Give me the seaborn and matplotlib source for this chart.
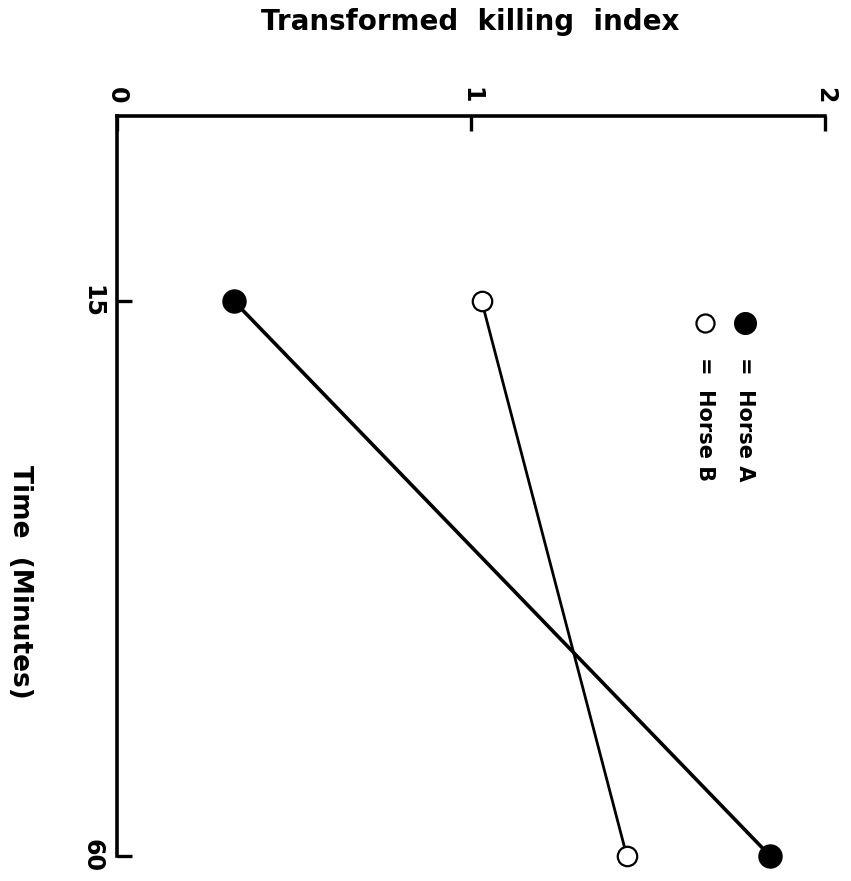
import pandas as pd
import matplotlib
matplotlib.use("Agg")
import matplotlib.pyplot as plt
import seaborn as sns

sns.set_style("white")
plt.rcParams['font.family'] = ['DejaVu Sans']
plt.rcParams['font.weight'] = 'bold'
plt.rcParams['text.color'] = 'black'
plt.rcParams['xtick.color'] = 'black'
plt.rcParams['ytick.color'] = 'black'

# data (chart is drawn rotated: time runs down, index runs right)
time_min = [15, 60]
horse_a = [0.33, 1.845]
horse_b = [1.03, 1.44]
horses = ["Horse A", "Horse B"]
index_ticks = [0, 1, 2]
time_ticks = [15, 60]

df = pd.DataFrame({
    "Time": time_min * 2,
    "Index": horse_a + horse_b,
    "Horse": [horses[0]] * 2 + [horses[1]] * 2,
})

fig = plt.figure(figsize=(8.51, 8.81), dpi=100)
ax = fig.add_axes([0.1375, 0.0284, 0.832, 0.8399])

fills = {"Horse A": "black", "Horse B": "white"}
sizes = {"Horse A": 16, "Horse B": 14}
widths = {"Horse A": 2.6, "Horse B": 2.0}
for h in horses:
    sub = df[df["Horse"] == h]
    sns.lineplot(data=sub, x="Index", y="Time", orient="y", sort=False, ax=ax,
                 color="black", linewidth=widths[h], marker="o",
                 markersize=sizes[h], markerfacecolor=fills[h],
                 markeredgecolor="black", markeredgewidth=1.6,
                 legend=False, zorder=3, clip_on=False)

ax.set_xlim(0, 2)
ax.set_ylim(60, 0)
ax.xaxis.tick_top()
ax.set_xticks(index_ticks)
ax.set_xticklabels([str(t) for t in index_ticks])
ax.set_yticks(time_ticks)
ax.set_yticklabels([str(t) for t in time_ticks])
ax.tick_params(axis="both", direction="in", length=11, width=2.4,
               labelsize=17, pad=9, colors="black")
ax.tick_params(axis="x", top=True, bottom=False)
ax.tick_params(axis="y", left=True, right=False)
for lab in ax.get_xticklabels():
    lab.set_rotation(270)
    lab.set_va("bottom")
    lab.set_ha("center")
for lab in ax.get_yticklabels():
    lab.set_rotation(270)
    lab.set_va("center")
    lab.set_ha("right")

for s in ["bottom", "right"]:
    ax.spines[s].set_visible(False)
for s in ["top", "left"]:
    ax.spines[s].set_linewidth(2.6)
    ax.spines[s].set_color("black")

ax.set_xlabel("")
ax.set_ylabel("")
fig.text(0.552, 0.975, "Transformed  killing  index", ha="center", va="center",
         fontsize=20, fontweight="bold")
fig.text(0.024, 0.34, "Time  (Minutes)", ha="center", va="center",
         rotation=270, fontsize=19, fontweight="bold")

# legend drawn rotated
leg_x = [0.887, 0.831]
for h, lx in zip(horses, leg_x):
    ax.plot([lx], [0.72], transform=ax.transAxes, marker="o",
            markersize=sizes[h] - 1, markerfacecolor=fills[h],
            markeredgecolor="black", markeredgewidth=1.6, clip_on=False)
    ax.text(lx, 0.675, "=  " + h, transform=ax.transAxes, rotation=270,
            ha="center", va="top", fontsize=15, fontweight="bold")

fig.savefig("out.png", dpi=100, facecolor="white")
